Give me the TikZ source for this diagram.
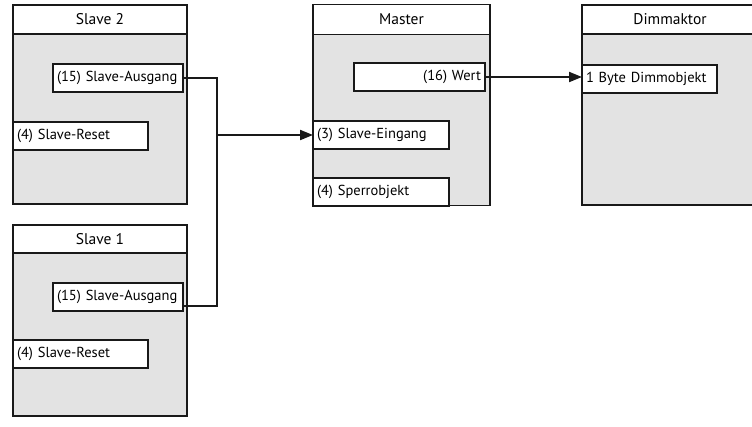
\documentclass[tikz,border=0pt]{standalone}
\usepackage{fontspec}
\setmainfont{PT Sans}
\usetikzlibrary{positioning,arrows.meta}

\begin{document}
\begin{tikzpicture}[
  x=1pt, y=-1pt,
  node distance=21pt and 126pt,
  >={Triangle[length=13pt,width=10pt]},   % filled arrow tip
  head/.style={rectangle, draw=black!90, line width=1.5pt, fill=white, outer sep=0pt, inner sep=0pt,
               minimum width=174pt, minimum height=29pt, font=\fontsize{15.5}{17}\selectfont},
  body/.style={rectangle, draw=black!90, line width=1.5pt, fill=black!11, outer sep=0pt, inner sep=0pt,
               minimum width=174pt},
  item/.style={rectangle, draw=black!90, line width=2pt, fill=white, outer sep=0pt, anchor=north west,
               inner xsep=4pt, inner ysep=0pt, minimum height=28pt, font=\fontsize{14.5}{16}\selectfont},
  wire/.style={draw=black!90, line width=2pt}
]
\useasboundingbox (0,0) rectangle (752,426);

% Modules
\node[head, anchor=north west] at (13,5) (s2head) {Slave 2};
\node[body, below=0pt of s2head, minimum height=170pt] (s2body) {};
\node[head, below=21pt of s2body, minimum height=28pt] (s1head) {Slave 1};
\node[body, below=0pt of s1head, minimum height=163pt] (s1body) {};
\node[head, right=126pt of s2head, minimum width=177pt, minimum height=30pt] (mhead) {Master};
\node[body, below=0pt of mhead, minimum width=177pt, minimum height=171pt] (mbody) {};
\node[head, anchor=north west, minimum width=176pt] at (582,5) (dhead) {Dimmaktor};
\node[body, below=0pt of dhead, minimum width=176pt, minimum height=171pt] (dbody) {};

% Objects
\node[item, text width=122pt, align=left]  at (53,64)   (s2out)   {(15) Slave-Ausgang};
\node[item, text width=127pt, align=left]  at (13,122)  (s2reset) {(4) Slave-Reset};
\node[item, text width=122pt, align=left]  at (53,283)  (s1out)   {(15) Slave-Ausgang};
\node[item, text width=127pt, align=left]  at (13,340)  (s1reset) {(4) Slave-Reset};
\node[item, text width=123pt, align=right] at (354,63)  (wert)    {(16) Wert};
\node[item, text width=128pt, align=left]  at (313,121) (ein)     {(3) Slave-Eingang};
\node[item, text width=128pt, align=left]  at (313,178) (sperr)   {(4) Sperrobjekt};
\node[item, text width=127pt, align=left]  at (582,65)  (dimm)    {1 Byte Dimmobjekt};

% Connections
\coordinate (join) at (217,135);
\draw[wire] (s2out.east) -| (join);
\draw[wire] ([yshift=-9pt]s1out.east) -| (join);
\draw[wire,->] (join) -- (join -| ein.west);
\draw[wire,->] (wert.east) -- (wert.east -| dimm.west);
\end{tikzpicture}
\end{document}
